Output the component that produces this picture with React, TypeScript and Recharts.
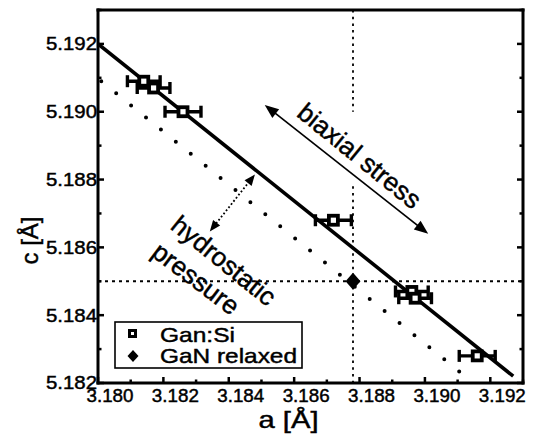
import React from 'react';
import {
  ComposedChart,
  Line,
  Scatter,
  XAxis,
  YAxis,
  ErrorBar,
  ReferenceLine,
  ReferenceDot,
  Legend,
} from 'recharts';

const FONT = '"Liberation Sans", Arial, Helvetica, sans-serif';

// Gan:Si samples, a and c lattice parameters [Å] with error on a
const sampleA = [3.1814, 3.1817, 3.1826, 3.1872, 3.1896, 3.1897, 3.1916];
const sampleC = [5.1909, 5.1907, 5.19, 5.1868, 5.1847, 5.1845, 5.1828];
const sampleErrA = [0.0005, 0.0005, 0.00055, 0.00055, 0.0005, 0.0005, 0.00055];

// relaxed GaN reference
const relaxedA = [3.1878];
const relaxedC = [5.185];

// biaxial stress line (solid) and hydrostatic pressure line (dotted)
const biaxialA = [3.18, 3.1927];
const biaxialC = [5.192, 5.1822];
const hydroA = [3.1801, 3.1911];
const hydroC = [5.1909, 5.1823];

const xTicks = [3.18, 3.181, 3.182, 3.183, 3.184, 3.185, 3.186, 3.187, 3.188, 3.189, 3.19, 3.191, 3.192, 3.193];
const yTicks = [5.182, 5.183, 5.184, 5.185, 5.186, 5.187, 5.188, 5.189, 5.19, 5.191, 5.192, 5.193];

const ganSi = sampleA.map((a, i) => ({ a, c: sampleC[i], err: sampleErrA[i] }));
const relaxed = relaxedA.map((a, i) => ({ a, c: relaxedC[i] }));
const biaxialLine = biaxialA.map((a, i) => ({ a, c: biaxialC[i] }));
const hydroLine = hydroA.map((a, i) => ({ a, c: hydroC[i] }));

const isMajor = (v: number) => Math.round(v * 1000) % 2 === 0;

// the scan is a bit heavy, thicken glyphs slightly
const ink = { fill: '#000', stroke: '#000', strokeWidth: 0.45 };

function BottomTick({ x, y, payload }: any) {
  const major = isMajor(payload.value);
  return (
    <g>
      <line x1={x} y1={y} x2={x} y2={y - (major ? 6 : 3.5)} stroke="#000" strokeWidth={2.5} />
      {major && (
        <text x={x + 12} y={y + 19} textAnchor="middle" fontSize={18} fontFamily={FONT}
          textLength={47} lengthAdjust="spacingAndGlyphs" {...ink}>
          {payload.value.toFixed(3)}
        </text>
      )}
    </g>
  );
}

function TopTick({ x, y, payload }: any) {
  const major = isMajor(payload.value);
  return <line x1={x} y1={y} x2={x} y2={y + (major ? 6 : 3.5)} stroke="#000" strokeWidth={2.5} />;
}

function LeftTick({ x, y, payload }: any) {
  const major = isMajor(payload.value);
  return (
    <g>
      <line x1={x} y1={y} x2={x + (major ? 6 : 3.5)} y2={y} stroke="#000" strokeWidth={2.5} />
      {major && (
        <text x={x - 1} y={y} dy="0.36em" textAnchor="end" fontSize={18} fontFamily={FONT}
          textLength={51} lengthAdjust="spacingAndGlyphs" {...ink}>
          {payload.value.toFixed(3)}
        </text>
      )}
    </g>
  );
}

function RightTick({ x, y, payload }: any) {
  const major = isMajor(payload.value);
  return <line x1={x} y1={y} x2={x - (major ? 6 : 3.5)} y2={y} stroke="#000" strokeWidth={2.5} />;
}

const SquareDot = (p: any) => (
  <rect x={p.cx - 4.5} y={p.cy - 4.5} width={9} height={9} fill="#fff" stroke="#000" strokeWidth={3.8} />
);

const DiamondDot = (p: any) => (
  <polygon points={`${p.cx},${p.cy - 8.5} ${p.cx + 7.5},${p.cy} ${p.cx},${p.cy + 8.5} ${p.cx - 7.5},${p.cy}`} fill="#000" />
);

// double headed arrow drawn between the segment end points
const arrowShape = (dashed: boolean, L: number, W: number) => (p: any) => {
  const { x1, y1, x2, y2 } = p;
  const len = Math.hypot(x2 - x1, y2 - y1);
  const ux = (x2 - x1) / len;
  const uy = (y2 - y1) / len;
  const head = (tx: number, ty: number, sx: number, sy: number) => {
    const bx = tx - sx * L;
    const by = ty - sy * L;
    return `${tx},${ty} ${bx - sy * W},${by + sx * W} ${bx + sy * W},${by - sx * W}`;
  };
  return (
    <g>
      <line x1={x1 + ux * L * 0.8} y1={y1 + uy * L * 0.8} x2={x2 - ux * L * 0.8} y2={y2 - uy * L * 0.8}
        stroke="#000" strokeWidth={dashed ? 1.8 : 1.7} strokeDasharray={dashed ? '1.8 2.2' : undefined} />
      <polygon points={head(x1, y1, -ux, -uy)} fill="#000" />
      <polygon points={head(x2, y2, ux, uy)} fill="#000" />
    </g>
  );
};

const rotatedText = (text: string, angle: number, size: number) => (p: any) => (
  <text x={p.cx} y={p.cy} transform={`rotate(${angle} ${p.cx} ${p.cy})`} textAnchor="middle"
    dominantBaseline="central" fontSize={size} fontFamily={FONT} {...ink}>
    {text}
  </text>
);

function LegendBox() {
  return (
    <svg width={190} height={49} style={{ display: 'block' }}>
      <rect x={1} y={1} width={187} height={46} fill="#fff" stroke="#000" strokeWidth={1.6} />
      <rect x={15.5} y={9.5} width={6} height={6} fill="#fff" stroke="#000" strokeWidth={3} />
      <polygon points="19,29 24.5,35 19,41 13.5,35" fill="#000" />
      <text x={46} y={21} fontSize={21} fontFamily={FONT} textLength={75} lengthAdjust="spacingAndGlyphs" {...ink}>Gan:Si</text>
      <text x={46} y={42} fontSize={21} fontFamily={FONT} textLength={137} lengthAdjust="spacingAndGlyphs" {...ink}>GaN relaxed</text>
    </svg>
  );
}

export default function App() {
  const axisLine = { stroke: '#000', strokeWidth: 3, strokeLinecap: 'square' as const };
  return (
    <div style={{ position: 'absolute', left: 0, top: 0, background: '#fff', fontFamily: FONT }}>
      <ComposedChart width={541} height={434} margin={{ top: 9, right: 17, bottom: 0, left: 0 }}>
        <XAxis
          type="number" dataKey="a" domain={[3.18, 3.193]} ticks={xTicks} interval={0}
          allowDataOverflow tickLine={false} tickSize={0} tickMargin={0} height={51}
          axisLine={axisLine} tick={(p: any) => <BottomTick {...p} />}
          label={{
            content: ({ viewBox }: any) => (
              <text x={viewBox.x + viewBox.width / 2 - 22} y={viewBox.y + 45} textAnchor="middle"
                fontSize={24} fontFamily={FONT} textLength={60} lengthAdjust="spacingAndGlyphs" {...ink}>a [Å]</text>
            ),
          }}
        />
        <XAxis
          xAxisId="top" orientation="top" type="number" domain={[3.18, 3.193]} ticks={xTicks}
          interval={0} allowDataOverflow tickLine={false} tickSize={0} tickMargin={0} height={1}
          axisLine={axisLine} tick={(p: any) => <TopTick {...p} />}
        />
        <YAxis
          type="number" dataKey="c" domain={[5.182, 5.193]} ticks={yTicks} interval={0}
          allowDataOverflow tickLine={false} tickSize={0} tickMargin={0} width={98}
          axisLine={axisLine} tick={(p: any) => <LeftTick {...p} />}
          label={{
            content: ({ viewBox }: any) => {
              const cx = viewBox.x + 38;
              const cy = viewBox.y + viewBox.height / 2 + 44;
              return (
                <text x={cx} y={cy} transform={`rotate(-90 ${cx} ${cy})`} textAnchor="middle"
                  fontSize={24} fontFamily={FONT} {...ink}>c [Å]</text>
              );
            },
          }}
        />
        <YAxis
          yAxisId="right" orientation="right" type="number" domain={[5.182, 5.193]} ticks={yTicks}
          interval={0} allowDataOverflow tickLine={false} tickSize={0} tickMargin={0} width={1}
          axisLine={axisLine} tick={(p: any) => <RightTick {...p} />}
        />

        <ReferenceLine segment={[{ x: 3.1878, y: 5.193 }, { x: 3.1878, y: 5.19 }]} stroke="#000"
          strokeWidth={1.8} strokeDasharray="2.5 4.2" ifOverflow="visible" />
        <ReferenceLine segment={[{ x: 3.1878, y: 5.1878 }, { x: 3.1878, y: 5.182 }]} stroke="#000"
          strokeWidth={1.8} strokeDasharray="2.5 4.2" ifOverflow="visible" />
        <ReferenceLine y={5.185} stroke="#000" strokeWidth={1.8} strokeDasharray="3 4" />

        <Line data={hydroLine} dataKey="c" type="linear" stroke="#000" strokeWidth={4}
          strokeDasharray="0 19.2" strokeLinecap="round" dot={false} activeDot={false}
          isAnimationActive={false} legendType="none" />
        <Line data={biaxialLine} dataKey="c" type="linear" stroke="#000" strokeWidth={3.6}
          dot={false} activeDot={false} isAnimationActive={false} legendType="none" />

        <ReferenceLine segment={[{ x: 3.1851, y: 5.1902 }, { x: 3.1901, y: 5.1864 }]}
          ifOverflow="visible" shape={arrowShape(false, 14, 5.5)} />
        <ReferenceLine segment={[{ x: 3.1848, y: 5.18815 }, { x: 3.18342, y: 5.18647 }]}
          ifOverflow="visible" shape={arrowShape(true, 11, 4.5)} />

        <ReferenceDot x={3.188} y={5.1887} r={1} ifOverflow="visible" shape={rotatedText('biaxial  stress', 39, 26)} />
        <ReferenceDot x={3.18385} y={5.18561} r={1} ifOverflow="visible" shape={rotatedText('hydrostatic', 39, 26)} />
        <ReferenceDot x={3.183} y={5.18508} r={1} ifOverflow="visible" shape={rotatedText('pressure', 37, 26)} />

        <Scatter name="Gan:Si" data={ganSi} shape={SquareDot} isAnimationActive={false}>
          <ErrorBar dataKey="err" direction="x" width={6} strokeWidth={3.4} stroke="#000" />
        </Scatter>
        <Scatter name="GaN relaxed" data={relaxed} shape={DiamondDot} isAnimationActive={false} />

        <Legend layout="vertical" align="center" verticalAlign="middle" content={() => <LegendBox />}
          wrapperStyle={{ left: 114, top: 321, width: 190, height: 49 }} />
      </ComposedChart>
    </div>
  );
}
